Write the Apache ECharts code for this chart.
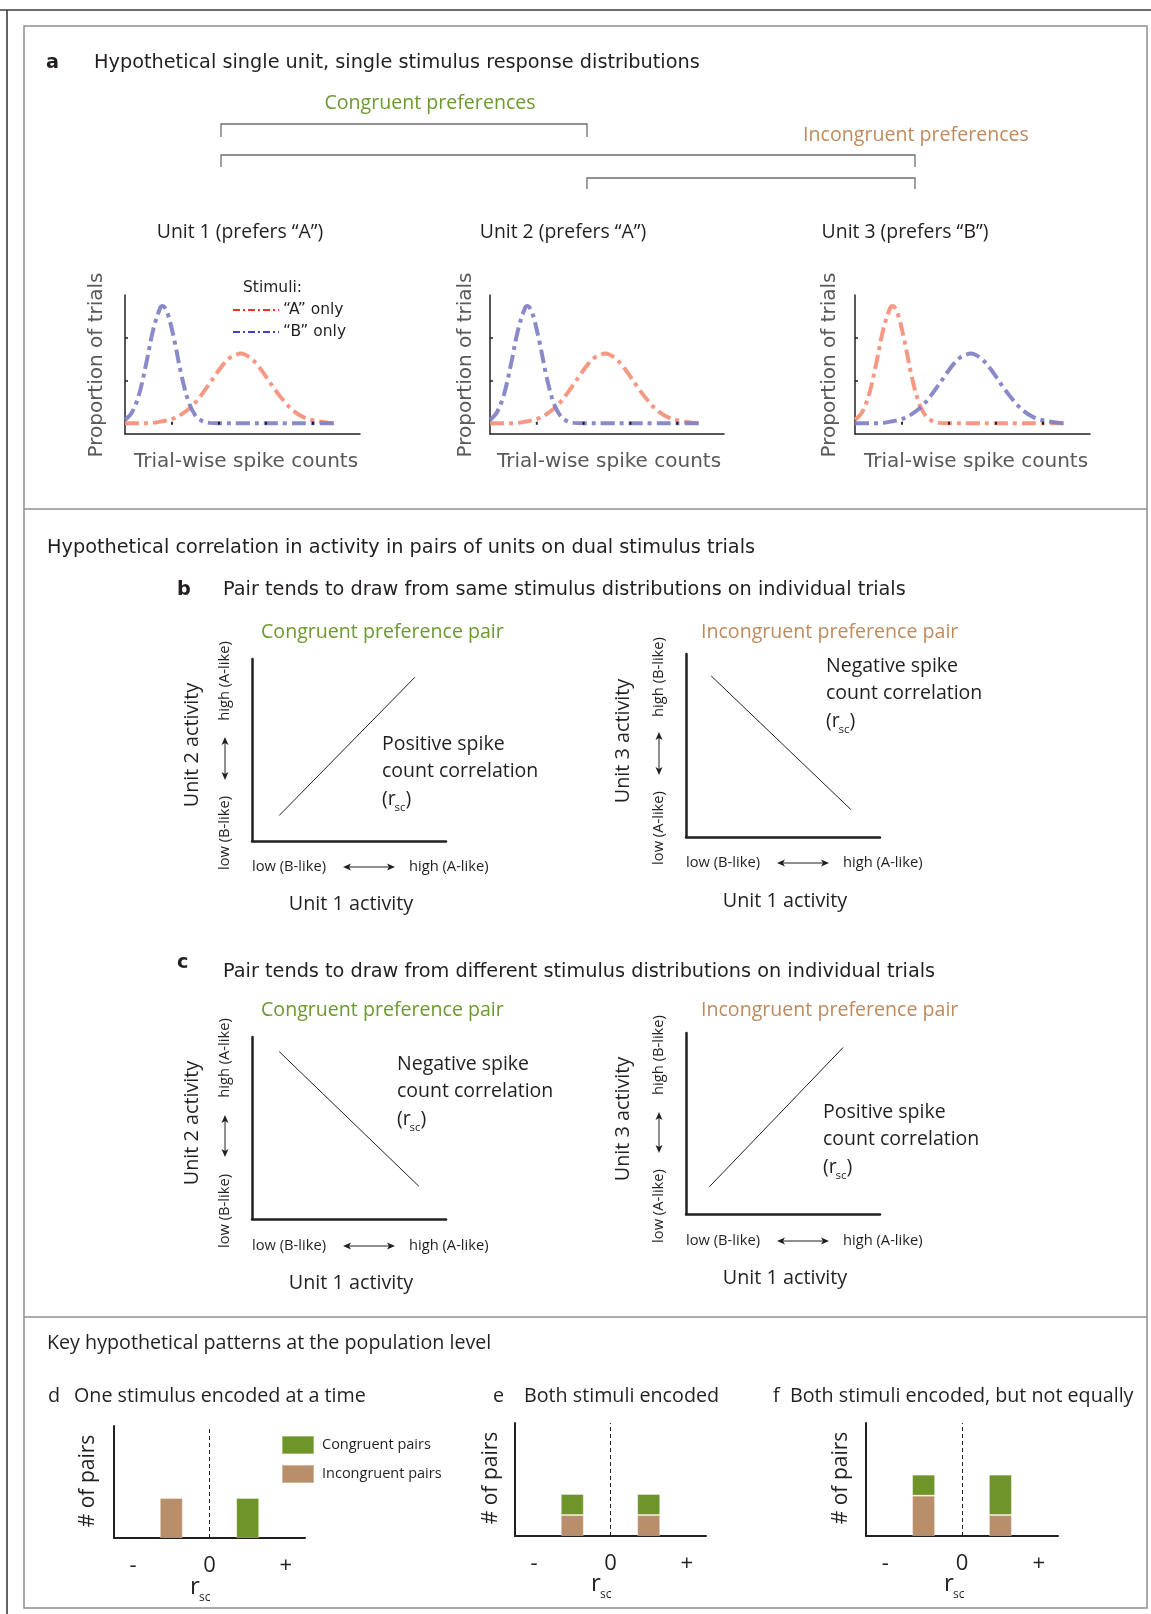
<!DOCTYPE html>
<html><head><meta charset="utf-8">
<script src="https://cdn.jsdelivr.net/npm/echarts@6/dist/echarts.min.js"></script>
<style>html,body{margin:0;padding:0;background:#fff}#c{width:1151px;height:1614px}</style>
</head><body><div id="c"></div>
<script>
// ---------------- data ----------------
// Panel a: response distributions (x = trial-wise spike count, arbitrary 0-100; y = proportion, arbitrary)
const narrowX = [0, 3, 6, 9, 12, 15, 16, 18, 21, 24, 27, 30, 33, 36, 40, 50, 60, 70, 80, 90];
const narrowY = [0.08, 0.26, 0.68, 1.39, 2.19, 2.70, 2.74, 2.59, 1.94, 1.13, 0.51, 0.18, 0.05, 0.01, 0, 0, 0, 0, 0, 0];
const wideX = [0, 6, 12, 15, 18, 21, 24, 27, 30, 33, 36, 39, 42, 45, 48, 49, 51, 54, 57, 60, 63, 66, 69, 72, 75, 78, 81, 84, 87, 90];
const wideY = [0, 0, 0.01, 0.04, 0.07, 0.12, 0.21, 0.33, 0.49, 0.70, 0.93, 1.17, 1.39, 1.55, 1.62, 1.63, 1.61, 1.50, 1.32, 1.09, 0.85, 0.63, 0.43, 0.28, 0.17, 0.10, 0.06, 0.03, 0.01, 0];
const baselineTickX = [20, 40, 60, 80];
const proportionTicks = [0, 1, 2];
const unitTitles = ['Unit 1 (prefers \u201cA\u201d)', 'Unit 2 (prefers \u201cA\u201d)', 'Unit 3 (prefers \u201cB\u201d)'];
const unitPrefers = ['A', 'A', 'B'];
const stimulusNames = ['\u201cA\u201d only', '\u201cB\u201d only'];

// Panels b, c: schematic correlation lines (unit 1 activity, unit 2/3 activity), 0-100
const bCongruentLine = [[14, 14], [84, 90]];
const bIncongruentLine = [[13, 88], [85, 15]];
const cCongruentLine = [[14, 92], [86, 18]];
const cIncongruentLine = [[12, 15], [81, 92]];

// Panels d, e, f: number of pairs by r_sc bin
const rscCategories = ['-', 'neg', '0', 'pos', '+'];
const rscTickLabels = ['-', '', '0', '', '+'];
const dIncongruent = ['-', 5, '-', '-', '-'];
const dCongruent = ['-', '-', '-', 5, '-'];
const eIncongruent = ['-', 2.6, '-', 2.6, '-'];
const eCongruent = ['-', 2.6, '-', 2.6, '-'];
const fIncongruent = ['-', 5, '-', 2.6, '-'];
const fCongruent = ['-', 2.6, '-', 5, '-'];

// ---------------- styles ----------------
const OS = '"Open Sans", sans-serif';
const DV = '"DejaVu Sans", sans-serif';
const INK = '#231f20';
const GREEN_T = '#6b9a2e';
const BROWN_T = '#c08a5c';
const GREEN = '#6e942a';
const BROWN = '#b98e6a';
const COL_A = '#f4937d';
const COL_B = '#8483c7';

function txt(x, y, s, size, o) {
  o = o || {};
  return { type: 'text', x: x, y: y, rotation: o.rot || 0, z: 20, silent: true,
    style: { text: s, fontSize: size, fontFamily: o.ff || OS, fontWeight: o.fw || 'normal',
      fill: o.c || INK, align: o.align || 'left', verticalAlign: 'middle' } };
}
function pl(points, color, width, dash) {
  return { type: 'polyline', z: 20, silent: true, shape: { points: points },
    style: { stroke: color, lineWidth: width, fill: null, lineDash: dash || null } };
}
function arrowH(x1, x2, y) {
  return [
    pl([[x1 + 3, y], [x2 - 3, y]], INK, 1),
    { type: 'polygon', z: 20, silent: true, shape: { points: [[x1, y], [x1 + 8, y - 3.5], [x1 + 6, y], [x1 + 8, y + 3.5]] }, style: { fill: INK } },
    { type: 'polygon', z: 20, silent: true, shape: { points: [[x2, y], [x2 - 8, y - 3.5], [x2 - 6, y], [x2 - 8, y + 3.5]] }, style: { fill: INK } }
  ];
}
function arrowV(x, y1, y2) {
  return [
    pl([[x, y1 + 3], [x, y2 - 3]], INK, 1),
    { type: 'polygon', z: 20, silent: true, shape: { points: [[x, y1], [x - 3.5, y1 + 8], [x, y1 + 6], [x + 3.5, y1 + 8]] }, style: { fill: INK } },
    { type: 'polygon', z: 20, silent: true, shape: { points: [[x, y2], [x - 3.5, y2 - 8], [x, y2 - 6], [x + 3.5, y2 - 8]] }, style: { fill: INK } }
  ];
}

// ---------------- layout ----------------
const grids = [
  { left: 125, top: 295, width: 235, height: 139 },
  { left: 490, top: 295, width: 234, height: 139 },
  { left: 855, top: 295, width: 235, height: 139 },
  { left: 252, top: 659, width: 194, height: 182 },
  { left: 686, top: 654, width: 194, height: 183 },
  { left: 252, top: 1037, width: 194, height: 182 },
  { left: 686, top: 1033, width: 194, height: 181 },
  { left: 114, top: 1426, width: 191, height: 112 },
  { left: 515, top: 1423, width: 191, height: 113 },
  { left: 866, top: 1423, width: 192, height: 113 }
];

const xAxes = [], yAxes = [], series = [];
const noSplit = { show: false };

// panel a axes + curves
for (let i = 0; i < 3; i++) {
  xAxes.push({ gridIndex: i, type: 'value', min: 0, max: 100,
    axisLine: { show: true, onZero: false, lineStyle: { color: INK, width: 1.5 } },
    axisTick: { show: false }, axisLabel: { show: false }, splitLine: noSplit });
  yAxes.push({ gridIndex: i, type: 'value', min: -0.25, max: 3,
    axisLine: { show: true, onZero: false, lineStyle: { color: INK, width: 1.5 } },
    axisTick: { show: true, inside: true, length: 3, customValues: proportionTicks, lineStyle: { color: INK, width: 1.5 } },
    axisLabel: { show: false }, splitLine: noSplit });
  const narrow = narrowX.map((x, k) => [x, narrowY[k]]);
  const wide = wideX.map((x, k) => [x, wideY[k]]);
  const aData = unitPrefers[i] === 'A' ? wide : narrow;
  const bData = unitPrefers[i] === 'B' ? wide : narrow;
  series.push({ type: 'scatter', name: 'ticks' + i, xAxisIndex: i, yAxisIndex: i, z: 5,
    data: baselineTickX.map(x => [x, 0]), symbol: 'rect', symbolSize: [2, 3], itemStyle: { color: '#000' }, silent: true });
  series.push({ type: 'line', name: stimulusNames[0], xAxisIndex: i, yAxisIndex: i, data: aData, smooth: 0.35,
    showSymbol: false, z: 2, lineStyle: { color: COL_A, width: 4, type: [14, 5, 4, 5], opacity: 0.95 }, silent: true });
  series.push({ type: 'line', name: stimulusNames[1], xAxisIndex: i, yAxisIndex: i, data: bData, smooth: 0.35,
    showSymbol: false, z: 3, lineStyle: { color: COL_B, width: 4, type: [14, 5, 4, 5], opacity: 0.95 }, silent: true });
}

// panels b, c
const corrLines = [bCongruentLine, bIncongruentLine, cCongruentLine, cIncongruentLine];
for (let j = 0; j < 4; j++) {
  const gi = 3 + j;
  xAxes.push({ gridIndex: gi, type: 'value', min: 0, max: 100,
    axisLine: { show: true, onZero: false, lineStyle: { color: INK, width: 2.5 } },
    axisTick: { show: false }, axisLabel: { show: false }, splitLine: noSplit });
  yAxes.push({ gridIndex: gi, type: 'value', min: 0, max: 100,
    axisLine: { show: true, onZero: false, lineStyle: { color: INK, width: 2.5 } },
    axisTick: { show: false }, axisLabel: { show: false }, splitLine: noSplit });
  series.push({ type: 'line', xAxisIndex: gi, yAxisIndex: gi, data: corrLines[j], showSymbol: false,
    lineStyle: { color: INK, width: 1 }, silent: true });
}

// panels d, e, f
const barSets = [[dIncongruent, dCongruent], [eIncongruent, eCongruent], [fIncongruent, fCongruent]];
for (let j = 0; j < 3; j++) {
  const gi = 7 + j;
  xAxes.push({ gridIndex: gi, type: 'category', data: rscCategories, boundaryGap: true,
    axisLine: { show: true, onZero: false, lineStyle: { color: INK, width: 2 } },
    axisTick: { show: false },
    axisLabel: { show: true, interval: 0, margin: 17, fontSize: 22, fontFamily: OS, color: INK,
      formatter: (v, idx) => rscTickLabels[idx] },
    splitLine: noSplit });
  yAxes.push({ gridIndex: gi, type: 'value', min: 0, max: 14,
    axisLine: { show: true, onZero: false, lineStyle: { color: INK, width: 2 } },
    axisTick: { show: false }, axisLabel: { show: false }, splitLine: noSplit });
  series.push({ type: 'bar', name: 'Incongruent pairs', xAxisIndex: gi, yAxisIndex: gi, stack: 'p' + j,
    data: barSets[j][0], barWidth: 23, silent: true,
    itemStyle: { color: BROWN, borderColor: 'rgba(255,255,255,0.35)', borderWidth: 1 },
    markLine: { silent: true, symbol: ['none', 'none'], label: { show: false },
      lineStyle: { color: INK, width: 1, type: [4, 3] }, data: [{ xAxis: '0' }] } });
  series.push({ type: 'bar', name: 'Congruent pairs', xAxisIndex: gi, yAxisIndex: gi, stack: 'p' + j,
    data: barSets[j][1], barWidth: 23, silent: true,
    itemStyle: { color: GREEN, borderColor: 'rgba(255,255,255,0.35)', borderWidth: 1 } });
}

// ---------------- graphic (frame, titles, annotations) ----------------
let G = [];
G.push(pl([[0, 10], [1151, 10]], '#3c3c3c', 1.6));
G.push(pl([[7, 10], [7, 1614]], '#3c3c3c', 1.6));
G.push({ type: 'rect', z: 20, silent: true, shape: { x: 24, y: 26, width: 1123, height: 1582 }, style: { fill: null, stroke: '#8f8f8f', lineWidth: 1.5 } });
G.push(pl([[24, 509], [1147, 509]], '#8f8f8f', 1.5));
G.push(pl([[24, 1317], [1147, 1317]], '#8f8f8f', 1.5));

// panel a
G.push(txt(46, 63, 'a', 19.3, { ff: DV, fw: 'bold' }));
G.push(txt(94, 63, 'Hypothetical single unit, single stimulus response distributions', 19.3, { ff: DV }));
G.push(txt(430, 103, 'Congruent preferences', 19.6, { c: GREEN_T, align: 'center' }));
G.push(txt(916, 135, 'Incongruent preferences', 19.6, { c: BROWN_T, align: 'center' }));
G.push(pl([[221, 137], [221, 124], [587, 124], [587, 137]], '#6d6e71', 1.3));
G.push(pl([[221, 167], [221, 155], [915, 155], [915, 167]], '#6d6e71', 1.3));
G.push(pl([[587, 189], [587, 178], [915, 178], [915, 189]], '#6d6e71', 1.3));
[240, 563, 905].forEach((x, i) => G.push(txt(x, 232, unitTitles[i], 19.4, { align: 'center' })));
[97, 466, 830].forEach(x => G.push(txt(x, 365, 'Proportion of trials', 20, { ff: DV, c: '#58595b', align: 'center', rot: Math.PI / 2 })));
[246, 609, 976].forEach(x => G.push(txt(x, 462, 'Trial-wise spike counts', 20, { ff: DV, c: '#58595b', align: 'center' })));
G.push(txt(243, 288, 'Stimuli:', 15.5, { ff: DV }));
G.push(pl([[233, 310], [279, 310]], '#ff2a2a', 2, [7, 3, 2, 3]));
G.push(txt(283, 310, stimulusNames[0], 15.5, { ff: DV }));
G.push(pl([[233, 332], [279, 332]], '#3f3fcf', 2, [7, 3, 2, 3]));
G.push(txt(283, 332, stimulusNames[1], 15.5, { ff: DV }));

// panels b, c
G.push(txt(47, 548, 'Hypothetical correlation in activity in pairs of units on dual stimulus trials', 19.3, { ff: DV }));
G.push(txt(177, 590, 'b', 19.3, { ff: DV, fw: 'bold' }));
G.push(txt(223, 590, 'Pair tends to draw from same stimulus distributions on individual trials', 19.3, { ff: DV }));
G.push(txt(177, 963, 'c', 19.3, { ff: DV, fw: 'bold' }));
G.push(txt(223, 972, 'Pair tends to draw from different stimulus distributions on individual trials', 19.3, { ff: DV }));

const corrPanels = [
  { title: 'Congruent preference pair', tc: GREEN_T, tx: 261, ty: 632, unit: 'Unit 2 activity', ux: 192, uy: 745,
    rx: 225, hi: 'high (A-like)', hiY: 681, lo: 'low (B-like)', loY: 833, av: [737, 780],
    xy: 867, xlo: 252, xhi: 409, ah: [343, 395], u1: [351, 904], cx: 382, cy: 744, word: 'Positive' },
  { title: 'Incongruent preference pair', tc: BROWN_T, tx: 701, ty: 632, unit: 'Unit 3 activity', ux: 623, uy: 741,
    rx: 659, hi: 'high (B-like)', hiY: 677, lo: 'low (A-like)', loY: 828, av: [732, 775],
    xy: 863, xlo: 686, xhi: 843, ah: [777, 829], u1: [785, 901], cx: 826, cy: 666, word: 'Negative' },
  { title: 'Congruent preference pair', tc: GREEN_T, tx: 261, ty: 1010, unit: 'Unit 2 activity', ux: 192, uy: 1123,
    rx: 225, hi: 'high (A-like)', hiY: 1058, lo: 'low (B-like)', loY: 1211, av: [1115, 1157],
    xy: 1246, xlo: 252, xhi: 409, ah: [343, 395], u1: [351, 1283], cx: 397, cy: 1064, word: 'Negative' },
  { title: 'Incongruent preference pair', tc: BROWN_T, tx: 701, ty: 1010, unit: 'Unit 3 activity', ux: 623, uy: 1119,
    rx: 659, hi: 'high (B-like)', hiY: 1055, lo: 'low (A-like)', loY: 1206, av: [1112, 1153],
    xy: 1241, xlo: 686, xhi: 843, ah: [777, 829], u1: [785, 1278], cx: 823, cy: 1112, word: 'Positive' }
];
corrPanels.forEach(p => {
  G.push(txt(p.tx, p.ty, p.title, 19.6, { c: p.tc }));
  G.push(txt(p.ux, p.uy, p.unit, 19.8, { align: 'center', rot: Math.PI / 2 }));
  G.push(txt(p.rx, p.hiY, p.hi, 14.7, { align: 'center', rot: Math.PI / 2 }));
  G.push(txt(p.rx, p.loY, p.lo, 14.7, { align: 'center', rot: Math.PI / 2 }));
  G = G.concat(arrowV(p.rx, p.av[0], p.av[1]));
  G.push(txt(p.xlo, p.xy, 'low (B-like)', 14.7));
  G.push(txt(p.xhi, p.xy, 'high (A-like)', 14.7));
  G = G.concat(arrowH(p.ah[0], p.ah[1], p.xy));
  G.push(txt(p.u1[0], p.u1[1], 'Unit 1 activity', 19.8, { align: 'center' }));
  G.push(txt(p.cx, p.cy, p.word + ' spike', 19.5));
  G.push(txt(p.cx, p.cy + 27.5, 'count correlation', 19.5));
  G.push(txt(p.cx, p.cy + 55, '(r', 19.5));
  G.push(txt(p.cx + 12.5, p.cy + 64, 'sc', 11.5));
  G.push(txt(p.cx + 23.5, p.cy + 55, ')', 19.5));
});

// panels d, e, f
G.push(txt(47, 1343, 'Key hypothetical patterns at the population level', 19.7));
G.push(txt(48, 1396, 'd', 19.7));
G.push(txt(74, 1396, 'One stimulus encoded at a time', 19.7));
G.push(txt(493, 1396, 'e', 19.7));
G.push(txt(524, 1396, 'Both stimuli encoded', 19.7));
G.push(txt(773, 1396, 'f', 19.7));
G.push(txt(790, 1396, 'Both stimuli encoded, but not equally', 19.7));
[[88, 1481], [491, 1478], [841, 1478]].forEach(c => G.push(txt(c[0], c[1], '# of pairs', 21, { align: 'center', rot: Math.PI / 2 })));
[[195, 1587], [596, 1584], [949, 1584]].forEach(c => {
  G.push(txt(c[0], c[1], 'r', 24, { align: 'center' }));
  G.push(txt(c[0] + 4, c[1] + 11, 'sc', 12));
});

const option = {
  animation: false,
  backgroundColor: '#ffffff',
  grid: grids,
  xAxis: xAxes,
  yAxis: yAxes,
  series: series,
  legend: { data: ['Congruent pairs', 'Incongruent pairs'], orient: 'vertical', left: 281, top: 1435,
    itemWidth: 32, itemHeight: 18, itemGap: 9, selectedMode: false, icon: 'rect', padding: 0,
    textStyle: { fontFamily: OS, fontSize: 14.5, color: INK, padding: [0, 0, 0, 3] } },
  graphic: { elements: G }
};
const chart = echarts.init(document.getElementById('c'), null, { renderer: 'canvas', width: 1151, height: 1614 });
chart.setOption(option);
</script>
</body></html>
